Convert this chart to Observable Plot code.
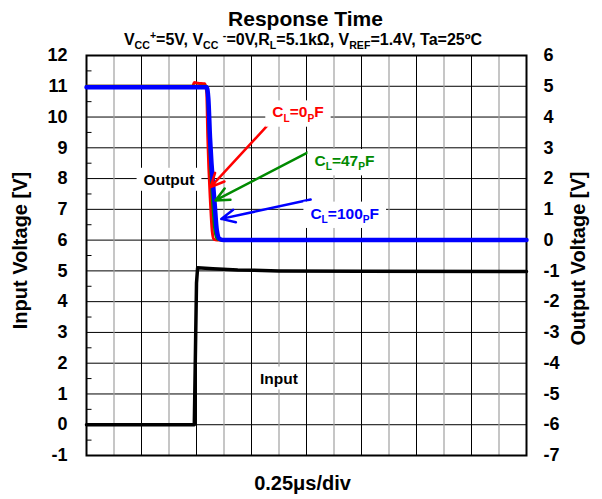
<!DOCTYPE html>
<html><head><meta charset="utf-8">
<script src="https://cdn.jsdelivr.net/npm/d3@7"></script>
<script src="https://cdn.jsdelivr.net/npm/@observablehq/plot@0.6"></script>
<style>
body{margin:0;background:#fff;}
#chart svg{display:block;}
</style>
</head><body><div id="chart"></div>
<script>
// ---- axis / tick data ----
const divisions = d3.range(0, 17);            // 16 time divisions
const majorDivs = divisions.filter(d => d % 2 === 0);
const minorDivs = divisions.filter(d => d % 2 === 1);
const leftTicks = d3.range(-1, 13);           // Input voltage ticks
const halfTicks = d3.range(-0.5, 12, 1);      // minor inner ticks
const rightTickLabels = ["-7","-6","-5","-4","-3","-2","-1","0","1","2","3","4","5","6"];
const outputOffset = 6;                       // output axis = input axis - 6

// ---- series (x in divisions) ----
const inputT = [0, 3.92, 4.0, 4.04, 4.6, 5.5, 7, 10, 16];
const inputV = [0, 0, 4.6, 5.1, 5.07, 5.03, 5.0, 4.99, 4.98];

const out0T = [0, 3.86, 3.92, 4.05, 4.3, 4.37, 4.41, 4.51, 4.57, 4.63, 4.75, 16];
const out0V = [5.0, 5.0, 5.12, 5.1, 5.08, 4.8, 3.34, 1.18, 0.3, 0.03, 0, 0];

const out47T = [0, 4.36, 4.41, 4.47, 4.59, 4.67, 4.77, 4.92, 16];
const out47V = [5.0, 5.0, 4.6, 3.3, 1.18, 0.3, 0.03, 0, 0];

const out100T = [0, 4.37, 4.43, 4.49, 4.66, 4.74, 4.84, 5.0, 16];
const out100V = [4.97, 4.97, 4.6, 3.34, 1.18, 0.31, 0.04, 0, 0];

// ---- annotations ----
const annLabels = ["C_{L}=0_{P}F", "C_{L}=47_{P}F", "C_{L}=100_{P}F"];
const annColors = ["#ff0000", "#008a00", "#0000ff"];
const annX = [7.69, 9.38, 9.39];
const annY = [10.15, 8.57, 6.86];
const arrowX1 = [6.75, 8.07, 8.15];
const arrowY1 = [9.89, 8.86, 7.32];
const arrowX2 = [4.51, 4.69, 4.90];
const arrowY2 = [7.72, 7.29, 6.69];

const plainLabels = ["Output", "Input"];
const plainX = [3.0, 7.0];
const plainY = [7.96, 1.5];

const title = "Response Time";
const subtitle = "V_{CC}^{+}=5V, V_{CC} ^{-}=0V,R_{L}=5.1kΩ, V_{REF}=1.4V, Ta=25ºC";
const xLabel = "0.25μs/div";
const yLabelLeft = "Input Voltage [V]";
const yLabelRight = "Output Voltage [V]";

// ---- build tables ----
const inputData = inputT.map((t, i) => ({t, v: inputV[i]}));
const mk = (T, V) => T.map((t, i) => ({t, v: V[i] + outputOffset}));
const out0 = mk(out0T, out0V), out47 = mk(out47T, out47V), out100 = mk(out100T, out100V);
const ann = annLabels.map((s, i) => ({s, c: annColors[i], x: annX[i], y: annY[i]}));
const arrows = annLabels.map((s, i) => ({c: annColors[i], x1: arrowX1[i], y1: arrowY1[i], x2: arrowX2[i], y2: arrowY2[i]}));
const plain = plainLabels.map((s, i) => ({s, x: plainX[i], y: plainY[i]}));

const FONT = "'Liberation Sans', Arial, Helvetica, sans-serif";

const chart = Plot.plot({
  width: 602, height: 499,
  marginLeft: 86, marginRight: 76, marginTop: 55, marginBottom: 44,
  x: {domain: [0, 16], axis: null},
  y: {domain: [-1, 12], axis: null},
  style: {fontFamily: FONT, background: "white", color: "black"},
  marks: [
    Plot.ruleY(leftTicks, {stroke: "#000", strokeWidth: 1}),
    Plot.ruleX(minorDivs, {stroke: "#a0a0a0", strokeWidth: 1.2}),
    Plot.ruleX(majorDivs, {stroke: "#000", strokeWidth: 1}),
    Plot.ruleY(halfTicks, {x1: 0, x2: 0.2, stroke: "#000", strokeWidth: 1}),
    Plot.frame({stroke: "#000", strokeWidth: 2}),
    Plot.axisY({anchor: "left", ticks: leftTicks, tickSize: 0, tickPadding: 19, tickFormat: d => String(d),
      fontSize: 18, fontWeight: "bold", label: null}),
    Plot.axisY({anchor: "right", ticks: leftTicks, tickSize: 0, tickPadding: 17,
      tickFormat: d => rightTickLabels[leftTicks.indexOf(d)],
      fontSize: 18, fontWeight: "bold", label: null}),
    Plot.line(inputData, {x: "t", y: "v", stroke: "#000", strokeWidth: 3.5, strokeLinejoin: "round"}),
    Plot.line(out0, {x: "t", y: "v", stroke: "#ff0000", strokeWidth: 3, curve: "monotone-x"}),
    Plot.line(out47, {x: "t", y: "v", stroke: "#008a00", strokeWidth: 3, curve: "monotone-x"}),
    Plot.line(out100, {x: "t", y: "v", stroke: "#0000ff", strokeWidth: 4.5, curve: "monotone-x"}),
    Plot.arrow(arrows, {x1: "x1", y1: "y1", x2: "x2", y2: "y2", stroke: "c", strokeWidth: 2.5, headLength: 9, headAngle: 50}),
    Plot.text(ann, {x: "x", y: "y", text: "s", fill: "c", fontSize: 15.5, fontWeight: "bold"}),
    Plot.text(plain, {x: "x", y: "y", text: "s", fill: "#000", fontSize: 15.5, fontWeight: "bold"}),
    Plot.text([title], {frameAnchor: "top", lineAnchor: "middle", textAnchor: "middle", dx: -1, dy: -36.5, fontSize: 21, fontWeight: "bold"}),
    Plot.text([subtitle], {frameAnchor: "top", lineAnchor: "middle", textAnchor: "middle", dx: -3.5, dy: -16, fontSize: 16, fontWeight: "bold"}),
    Plot.text([xLabel], {frameAnchor: "bottom", lineAnchor: "middle", textAnchor: "middle", dx: -4, dy: 28, fontSize: 20, fontWeight: "bold"}),
    Plot.text([yLabelLeft], {frameAnchor: "left", lineAnchor: "middle", textAnchor: "middle", rotate: -90, dx: -65.5, dy: -5, fontSize: 20, fontWeight: "bold"}),
    Plot.text([yLabelRight], {frameAnchor: "right", lineAnchor: "middle", textAnchor: "middle", rotate: -90, dx: 52.3, dy: 3, fontSize: 20, fontWeight: "bold"})
  ]
});
document.getElementById("chart").appendChild(chart);

// ---- post-process: subscripts / superscripts and white label boxes ----
const NS = "http://www.w3.org/2000/svg";
const boxed = new Set([...annLabels, ...plainLabels]);
function richify(el) {
  const src = el.textContent;
  if (!/[_^]\{/.test(src)) return;
  const fs = parseFloat(getComputedStyle(el).fontSize) || 15;
  const re = /([_^])\{([^}]*)\}/g;
  let last = 0, m; const parts = [];
  while ((m = re.exec(src))) {
    if (m.index > last) parts.push({t: src.slice(last, m.index), k: 0});
    parts.push({t: m[2], k: m[1] === "_" ? 1 : -1});
    last = re.lastIndex;
  }
  if (last < src.length) parts.push({t: src.slice(last), k: 0});
  el.textContent = "";
  let cur = 0;
  for (const p of parts) {
    const ts = document.createElementNS(NS, "tspan");
    const target = p.k === 1 ? fs * 0.28 : p.k === -1 ? -fs * 0.38 : 0;
    if (target - cur) ts.setAttribute("dy", target - cur);
    cur = target;
    if (p.k) ts.setAttribute("font-size", (fs * 0.66).toFixed(1));
    ts.textContent = p.t;
    el.appendChild(ts);
  }
}
chart.querySelectorAll("text").forEach(el => {
  const src = el.textContent;
  const needBox = boxed.has(src);
  richify(el);
  if (needBox) {
    const b = el.getBBox();
    const r = document.createElementNS(NS, "rect");
    r.setAttribute("x", b.x - 7); r.setAttribute("y", b.y - 3);
    r.setAttribute("width", b.width + 14); r.setAttribute("height", b.height + 6);
    r.setAttribute("fill", "white");
    const tr = el.getAttribute("transform");
    if (tr) r.setAttribute("transform", tr);
    el.parentNode.insertBefore(r, el);
  }
});
</script>
</body></html>
